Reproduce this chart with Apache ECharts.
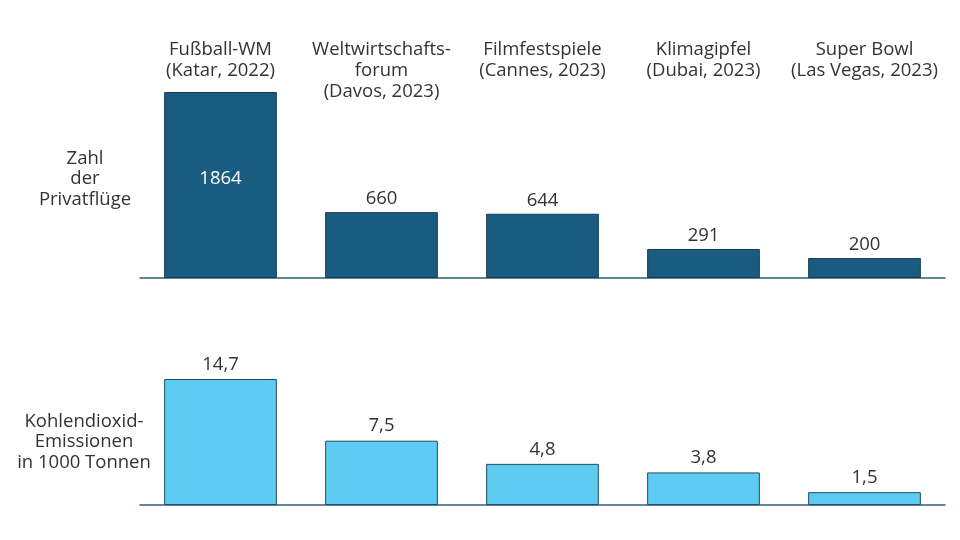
<!DOCTYPE html>
<html>
<head>
<meta charset="utf-8">
<script src="https://cdn.jsdelivr.net/npm/echarts@6/dist/echarts.min.js"></script>
<style>html,body{margin:0;padding:0;background:#fff}#c{width:960px;height:540px}</style>
</head>
<body>
<div id="c"></div>
<script>
const categories = [
  'Fußball-WM\n(Katar, 2022)',
  'Weltwirtschafts-\nforum\n(Davos, 2023)',
  'Filmfestspiele\n(Cannes, 2023)',
  'Klimagipfel\n(Dubai, 2023)',
  'Super Bowl\n(Las Vegas, 2023)'
];
const flights = [1864, 660, 644, 291, 200];
const emissions = [14.7, 7.5, 4.8, 3.8, 1.5];
const flightsTitle = 'Zahl\nder\nPrivatflüge';
const emissionsTitle = 'Kohlendioxid-\nEmissionen\nin 1000 Tonnen';

const FONT = '"Open Sans", "Noto Sans", sans-serif';
const TXT = '#333333';
const FS = 18.5;
const chart = echarts.init(document.getElementById('c'));
const fmt = p => String(p.value).replace('.', ',');

chart.setOption({
  animation: false,
  textStyle: { fontFamily: FONT },
  grid: [
    { left: 140, right: 15, top: 92, height: 186 },
    { left: 140, right: 15, top: 379, height: 126 }
  ],
  xAxis: [
    { type: 'category', gridIndex: 0, data: categories, position: 'bottom',
      axisLine: { lineStyle: { color: '#2e5f7c', width: 1.5 } },
      axisTick: { show: false }, axisLabel: { show: false } },
    { type: 'category', gridIndex: 0, data: categories, position: 'top',
      axisLine: { show: false }, axisTick: { show: false },
      axisLabel: { show: true, interval: 0, margin: 52.5, verticalAlign: 'top',
        fontFamily: FONT, fontSize: FS, lineHeight: 21, color: TXT, align: 'center' } },
    { type: 'category', gridIndex: 1, data: categories, position: 'bottom',
      axisLine: { lineStyle: { color: '#2e5f7c', width: 1.5 } },
      axisTick: { show: false }, axisLabel: { show: false } }
  ],
  yAxis: [
    { type: 'value', gridIndex: 0, min: 0, max: 1864, show: false },
    { type: 'value', gridIndex: 1, min: 0, max: 14.7, show: false }
  ],
  graphic: [
    { type: 'text', x: 85, y: 179,
      style: { text: flightsTitle, textAlign: 'center', textVerticalAlign: 'middle',
        fontFamily: FONT, fontSize: FS, lineHeight: 20.5, fill: TXT } },
    { type: 'text', x: 84, y: 442,
      style: { text: emissionsTitle, textAlign: 'center', textVerticalAlign: 'middle',
        fontFamily: FONT, fontSize: FS, lineHeight: 20.5, fill: TXT } }
  ],
  series: [
    { type: 'bar', xAxisIndex: 0, yAxisIndex: 0, barWidth: '70%',
      data: flights.map((v, i) => i === 0 ? {
        value: v,
        label: { position: 'inside', color: '#ffffff', offset: [0, -6] }
      } : v),
      itemStyle: { color: '#1a5c80', borderColor: '#163d52', borderWidth: 1 },
      label: { show: true, position: 'top', distance: 4, fontFamily: FONT, fontSize: FS, color: TXT, formatter: fmt } },
    { type: 'bar', xAxisIndex: 2, yAxisIndex: 1, barWidth: '70%',
      data: emissions,
      itemStyle: { color: '#5ecbf3', borderColor: '#1f4d63', borderWidth: 1 },
      label: { show: true, position: 'top', distance: 5, fontFamily: FONT, fontSize: FS, color: TXT, formatter: fmt } }
  ]
});
</script>
</body>
</html>
